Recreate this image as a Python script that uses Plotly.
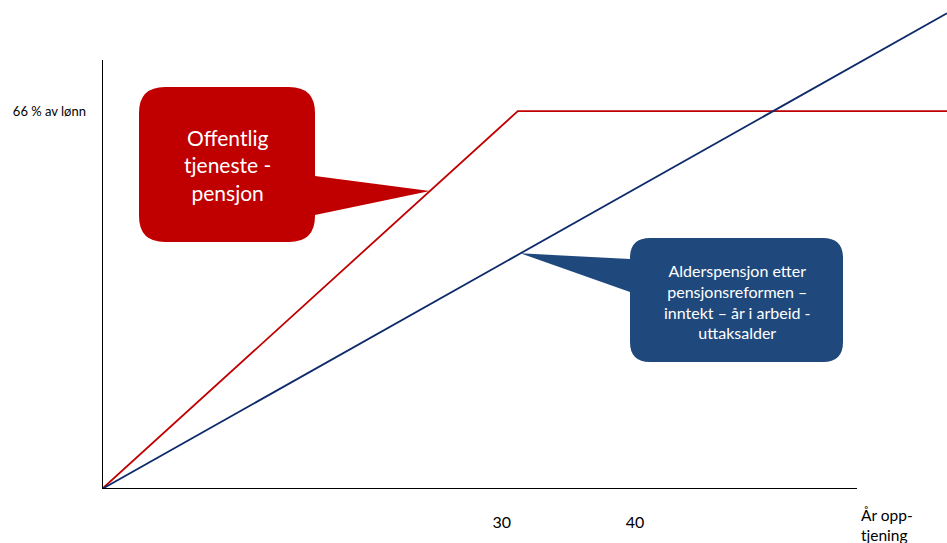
import plotly.graph_objects as go

# Years of accrual vs. pension level (% of salary)
red_name = "Offentlig tjenestepensjon"
red_x = [0, 31.2, 63.4]
red_y = [0, 66, 66]

blue_name = "Alderspensjon etter pensjonsreformen"
blue_x = [0, 63.4]
blue_y = [0, 83.1]

x_tick_vals = [30, 40]
x_tick_text = ["30", "40"]
y_tick_vals = [66]
y_tick_text = ["66 % av lønn"]

RED = "#C00000"
NAVY = "#0E2A6B"
BOX_BLUE = "#1F497D"
FONT = "Lato, Open Sans, sans-serif"

W, H = 947, 543
ML, MR, MT, MB = 102, 0, 0, 54
X_RANGE = [0, 63.4]
Y_RANGE = [0, 85.4]

px_per_x = (W - ML - MR) / (X_RANGE[1] - X_RANGE[0])
px_per_y = (H - MT - MB) / (Y_RANGE[1] - Y_RANGE[0])


def to_px(x, y):
    return ML + (x - X_RANGE[0]) * px_per_x, H - MB - (y - Y_RANGE[0]) * px_per_y


def to_data(px, py):
    return X_RANGE[0] + (px - ML) / px_per_x, Y_RANGE[0] + (H - MB - py) / px_per_y


def to_paper(px, py):
    return (px - ML) / (W - ML - MR), (H - MB - py) / (H - MT - MB)


def on_line(xs, ys, x):
    for i in range(len(xs) - 1):
        if xs[i] <= x <= xs[i + 1]:
            t = (x - xs[i]) / (xs[i + 1] - xs[i])
            return ys[i] + t * (ys[i + 1] - ys[i])
    return ys[-1]


def callout_path(x0, y0, x1, y1, r, side, b0, b1, tip):
    """Rounded rectangle (pixel coords) with a pointer on one side, returned in data coords."""
    pts = []

    def P(cmd, *xy):
        out = []
        for i in range(0, len(xy), 2):
            dx, dy = to_data(xy[i], xy[i + 1])
            out.append(f"{dx:.4f},{dy:.4f}")
        pts.append(cmd + " " + " ".join(out))

    P("M", x0 + r, y0)
    P("L", x1 - r, y0)
    P("Q", x1, y0, x1, y0 + r)
    if side == "right":
        P("L", x1, b0)
        P("L", tip[0], tip[1])
        P("L", x1, b1)
    P("L", x1, y1 - r)
    P("Q", x1, y1, x1 - r, y1)
    P("L", x0 + r, y1)
    P("Q", x0, y1, x0, y1 - r)
    if side == "left":
        P("L", x0, b1)
        P("L", tip[0], tip[1])
        P("L", x0, b0)
    P("L", x0, y0 + r)
    P("Q", x0, y0, x0 + r, y0)
    return " ".join(pts) + " Z"


fig = go.Figure()
fig.add_trace(go.Scatter(x=red_x, y=red_y, mode="lines", name=red_name,
                         line=dict(color=RED, width=1.8), hoverinfo="skip"))
fig.add_trace(go.Scatter(x=blue_x, y=blue_y, mode="lines", name=blue_name,
                         line=dict(color=NAVY, width=1.8), hoverinfo="skip"))

# Axis lines (shorter than the plotting area)
x_axis_end, _ = to_data(857, 0)
_, y_axis_top = to_data(0, 60)
fig.add_shape(type="line", x0=0, y0=0, x1=x_axis_end, y1=0, xref="x", yref="y",
              line=dict(color="black", width=2), layer="above")
fig.add_shape(type="line", x0=0, y0=0, x1=0, y1=y_axis_top, xref="x", yref="y",
              line=dict(color="black", width=2), layer="above")

# Callout for the public service pension line
red_tip_x = 24.6
red_tip = to_px(red_tip_x, on_line(red_x, red_y, red_tip_x))
fig.add_shape(type="path", xref="x", yref="y", layer="above",
              path=callout_path(139, 87, 315, 242, 26, "right", 176, 215, red_tip),
              fillcolor=RED, line=dict(width=0))

# Callout for the reformed old-age pension line
blue_tip_x = 31.4
blue_tip = to_px(blue_tip_x, on_line(blue_x, blue_y, blue_tip_x))
fig.add_shape(type="path", xref="x", yref="y", layer="above",
              path=callout_path(630, 238, 843, 362, 20, "left", 259, 292, blue_tip),
              fillcolor=BOX_BLUE, line=dict(width=0))

cx, cy = to_paper(227, 165)
fig.add_annotation(x=cx, y=cy, xref="paper", yref="paper", showarrow=False,
                   xanchor="center", yanchor="middle",
                   text="Offentlig<br>tjeneste -<br>pensjon",
                   font=dict(family=FONT, size=21, color="white"), align="center")
bx, by = to_paper(737, 301)
fig.add_annotation(x=bx, y=by, xref="paper", yref="paper", showarrow=False,
                   xanchor="center", yanchor="middle",
                   text="Alderspensjon etter<br>pensjonsreformen –<br>inntekt – år i arbeid -<br>uttaksalder",
                   font=dict(family=FONT, size=16, color="white"), align="center")

ax, ay = to_paper(859, 504)
fig.add_annotation(x=ax, y=ay, xref="paper", yref="paper", showarrow=False,
                   text="År opp-<br>tjening", xanchor="left", yanchor="top",
                   font=dict(family=FONT, size=15.5, color="black"), align="left")

fig.update_layout(
    width=W, height=H,
    margin=dict(l=ML, r=MR, t=MT, b=MB),
    paper_bgcolor="white", plot_bgcolor="white",
    showlegend=False,
    xaxis=dict(range=X_RANGE, tickvals=x_tick_vals, ticktext=x_tick_text,
               showgrid=False, zeroline=False, showline=False, ticks="",
               ticklabelstandoff=22, fixedrange=True,
               tickfont=dict(family=FONT, size=16, color="black")),
    yaxis=dict(range=Y_RANGE, tickvals=y_tick_vals, ticktext=y_tick_text,
               showgrid=False, zeroline=False, showline=False, ticks="",
               ticklabelstandoff=15, fixedrange=True,
               tickfont=dict(family=FONT, size=13, color="black")),
)

fig.write_html("out.html")
